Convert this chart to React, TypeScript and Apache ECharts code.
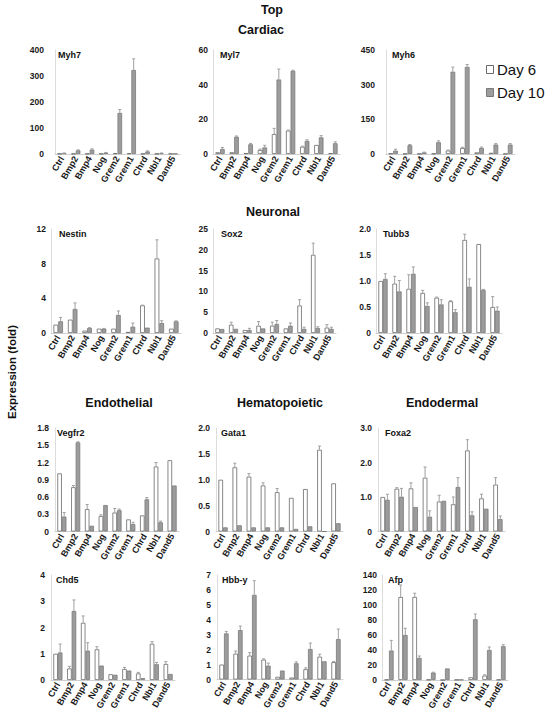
import React, { useEffect, useRef } from "react";
import * as echarts from "echarts";

const categories = ["Ctrl", "Bmp2", "Bmp4", "Nog", "Grem2", "Grem1", "Chrd", "Nbl1", "Dand5"];
const seriesNames = ["Day 6", "Day 10"];

// Cardiac
const myh7Day6 = [1, 1, 1, 1, 3, 3, 1, 1, 1];
const myh7Day6Err = [0, 0, 0, 0, 0, 0, 0, 0, 0];
const myh7Day10 = [3, 14, 17, 5, 158, 323, 10, 3, 1];
const myh7Day10Err = [1, 2, 3, 1, 13, 43, 2, 1, 0];

const myl7Day6 = [1, 1, 0.5, 2.3, 11.5, 13.5, 4.2, 5.2, 0.5];
const myl7Day6Err = [0, 0, 0, 0.5, 3.3, 0.3, 0.3, 0, 0];
const myl7Day10 = [2.9, 10, 5.6, 3.8, 43, 48, 7.6, 9.6, 6.2];
const myl7Day10Err = [0.9, 0.4, 0.5, 1.2, 6, 0.3, 0.6, 1.0, 0.8];

const myh6Day6 = [2, 1, 1, 2, 15, 26, 7, 5, 1];
const myh6Day6Err = [0, 0, 0, 0, 2, 3, 0, 0, 0];
const myh6Day10 = [14.5, 38, 7, 51, 356, 377, 26, 41, 41];
const myh6Day10Err = [6, 3, 1, 6, 20, 10, 4, 4, 4];

// Neuronal
const nestinDay6 = [0.96, 1.54, 0.27, 0.5, 0.5, 0.12, 3.19, 8.6, 0.5];
const nestinDay6Err = [0, 0, 0, 0, 0, 0, 0.02, 2.15, 0];
const nestinDay10 = [1.35, 2.77, 0.58, 0.5, 2.08, 0.73, 0.62, 1.15, 1.35];
const nestinDay10Err = [0.45, 0.7, 0.03, 0.03, 0.46, 0.42, 0, 0.27, 0.05];

const sox2Day6 = [1.1, 2.0, 0.72, 1.76, 1.76, 1.1, 6.6, 18.8, 1.3];
const sox2Day6Err = [0, 0.6, 0, 1.0, 0.85, 0, 1.4, 2.8, 0.7];
const sox2Day10 = [0.96, 1.0, 0.72, 1.1, 2.16, 1.76, 1.0, 1.2, 1.0];
const sox2Day10Err = [0, 0, 0.4, 0, 0.85, 0.65, 0.4, 0.3, 0.4];

const tubb3Day6 = [1.0, 0.95, 0.85, 0.77, 0.68, 0.61, 1.79, 1.71, 0.5];
const tubb3Day6Err = [0, 0.14, 0.27, 0.05, 0.01, 0.01, 0.11, 0, 0.2];
const tubb3Day10 = [1.04, 0.8, 1.14, 0.52, 0.55, 0.4, 0.89, 0.83, 0.43];
const tubb3Day10Err = [0.1, 0.21, 0.13, 0.06, 0.09, 0.05, 0.15, 0.01, 0.07];

// Endothelial / Hematopoietic / Endodermal
const vegfr2Day6 = [1.01, 0.77, 0.39, 0.27, 0.33, 0.21, 0.28, 1.13, 1.24];
const vegfr2Day6Err = [0, 0.03, 0.08, 0.02, 0.07, 0, 0, 0.07, 0];
const vegfr2Day10 = [0.26, 1.55, 0.1, 0.46, 0.37, 0.13, 0.56, 0.16, 0.8];
const vegfr2Day10Err = [0.07, 0.01, 0, 0, 0.02, 0.03, 0.03, 0.02, 0];

const gata1Day6 = [1.0, 1.24, 1.06, 0.89, 0.76, 0.65, 0.82, 1.58, 0.93];
const gata1Day6Err = [0, 0.08, 0.06, 0.05, 0.07, 0, 0, 0.07, 0];
const gata1Day10 = [0.08, 0.12, 0.08, 0.08, 0.08, 0.05, 0.1, 0, 0.16];
const gata1Day10Err = [0, 0, 0, 0, 0, 0, 0, 0, 0];

const foxa2Day6 = [1.0, 1.24, 1.25, 1.56, 0.87, 0.79, 2.35, 0.96, 1.36];
const foxa2Day6Err = [0, 0.03, 0.16, 0.31, 0.18, 0.21, 0.31, 0.12, 0.2];
const foxa2Day10 = [0.92, 1.01, 0.71, 0.43, 0.89, 1.29, 0.47, 0.66, 0.36];
const foxa2Day10Err = [0.16, 0.24, 0, 0.17, 0, 0.27, 0.1, 0, 0.09];

const chd5Day6 = [1.0, 0.44, 2.18, 1.17, 0.22, 0.42, 0.25, 1.38, 0.61];
const chd5Day6Err = [0, 0.08, 0.26, 0.1, 0, 0.06, 0.04, 0.08, 0.09];
const chd5Day10 = [1.05, 2.63, 1.12, 0.55, 0.2, 0.36, 0.07, 0.6, 0.23];
const chd5Day10Err = [0.32, 0.42, 0.3, 0, 0, 0, 0, 0.07, 0];

const hbbyDay6 = [1.0, 1.73, 1.6, 1.33, 0.18, 0.13, 0.69, 1.53, 1.16];
const hbbyDay6Err = [0, 0.18, 0.2, 0.05, 0, 0, 0.09, 0.16, 0.05];
const hbbyDay10 = [3.09, 3.31, 5.67, 0.93, 0.6, 1.09, 2.04, 1.22, 2.71];
const hbbyDay10Err = [0.13, 0.27, 0.95, 0.17, 0, 0.09, 0.4, 0, 0.67];

const afpDay6 = [0.5, 110.7, 110.7, 0.5, 0, 0.3, 3.6, 5.9, 0.5];
const afpDay6Err = [0, 16, 5, 0, 0, 0, 0, 1, 0];
const afpDay10 = [39.3, 60, 29.4, 9.9, 15.4, 0.5, 81, 40, 45];
const afpDay10Err = [13.5, 9, 2.6, 0.5, 0, 0, 7, 4, 2];

const geneNames = ["Myh7", "Myl7", "Myh6", "Nestin", "Sox2", "Tubb3", "Vegfr2", "Gata1", "Foxa2", "Chd5", "Hbb-y", "Afp"];
const axisMax = [400, 60, 450, 12, 25, 2.0, 1.8, 2.0, 3.0, 4, 7, 140];
const axisInterval = [100, 20, 150, 4, 5, 0.5, 0.3, 0.5, 1.0, 1, 1, 20];
const axisDecimals = [0, 0, 0, 0, 0, 1, 1, 1, 1, 0, 0, 0];

const day6Sets = [myh7Day6, myl7Day6, myh6Day6, nestinDay6, sox2Day6, tubb3Day6, vegfr2Day6, gata1Day6, foxa2Day6, chd5Day6, hbbyDay6, afpDay6];
const day6ErrSets = [myh7Day6Err, myl7Day6Err, myh6Day6Err, nestinDay6Err, sox2Day6Err, tubb3Day6Err, vegfr2Day6Err, gata1Day6Err, foxa2Day6Err, chd5Day6Err, hbbyDay6Err, afpDay6Err];
const day10Sets = [myh7Day10, myl7Day10, myh6Day10, nestinDay10, sox2Day10, tubb3Day10, vegfr2Day10, gata1Day10, foxa2Day10, chd5Day10, hbbyDay10, afpDay10];
const day10ErrSets = [myh7Day10Err, myl7Day10Err, myh6Day10Err, nestinDay10Err, sox2Day10Err, tubb3Day10Err, vegfr2Day10Err, gata1Day10Err, foxa2Day10Err, chd5Day10Err, hbbyDay10Err, afpDay10Err];

const sectionTitles = ["Top", "Cardiac", "Neuronal", "Endothelial", "Hematopoietic", "Endodermal"];

// layout (pixels): [left, top, width, zeroY, titleX, labelMargin]
const panelLayout = [
  [55, 50, 125, 154, 58, 11],
  [213, 50, 127, 154, 220, 5],
  [386, 50, 129, 154, 392, 11],
  [51, 229, 130, 333, 59, 5],
  [213, 229, 123, 333, 221, 5],
  [376, 229, 126, 333, 383, 5],
  [55, 428, 124, 531.5, 57, 6],
  [216, 428, 127, 531.5, 221, 6],
  [378, 428, 127, 531.5, 385, 6],
  [51, 575, 124, 680, 56, 6],
  [217, 575, 126, 679.5, 222, 6],
  [382, 575, 126, 680, 388, 5],
];
const sectionPos = [
  [272, 10],
  [261, 30],
  [273, 212],
  [119, 403],
  [280, 403],
  [442, 403],
];

const FONT = "'Liberation Sans', Arial, sans-serif";
const CAT_GAP = 0.34;
const WHITE_BORDER = "#6a6a6a";
const GREY_FILL = "#9c9c9c";
const GREY_BORDER = "#7a7a7a";
const ERR_COLOR = "#a0a0a0";

function buildOption() {
  const grid: any[] = [];
  const xAxis: any[] = [];
  const yAxis: any[] = [];
  const series: any[] = [];
  const graphic: any[] = [];

  geneNames.forEach((name, i) => {
    const [left, top, width, zeroY, titleX, margin] = panelLayout[i];
    grid.push({ left, top, width, height: zeroY - top, containLabel: false });
    xAxis.push({
      type: "category",
      gridIndex: i,
      data: categories,
      axisTick: { show: false },
      axisLine: { show: true, lineStyle: { color: "#cfcfcf", width: 1 } },
      axisLabel: {
        interval: 0,
        rotate: 60,
        margin: 3,
        fontSize: 9,
        fontWeight: "bold",
        fontFamily: FONT,
        color: "#1a1a1a",
      },
    });
    const dec = axisDecimals[i];
    yAxis.push({
      type: "value",
      gridIndex: i,
      min: 0,
      max: axisMax[i],
      interval: axisInterval[i],
      splitLine: { show: false },
      axisTick: { show: false },
      axisLine: { show: true, lineStyle: { color: "#dcdcdc", width: 1 } },
      axisLabel: {
        margin,
        fontSize: 8.5,
        fontWeight: "bold",
        fontFamily: FONT,
        color: "#1a1a1a",
        formatter: (v: number) => (v === 0 ? "0" : dec ? v.toFixed(1) : String(v)),
      },
    });
    series.push({
      type: "bar",
      name: seriesNames[0],
      xAxisIndex: i,
      yAxisIndex: i,
      data: day6Sets[i],
      barGap: "0%",
      barCategoryGap: CAT_GAP * 100 + "%",
      itemStyle: { color: "#ffffff", borderColor: WHITE_BORDER, borderWidth: 0.8 },
      silent: true,
    });
    series.push({
      type: "bar",
      name: seriesNames[1],
      xAxisIndex: i,
      yAxisIndex: i,
      data: day10Sets[i],
      barGap: "0%",
      barCategoryGap: CAT_GAP * 100 + "%",
      itemStyle: { color: GREY_FILL, borderColor: GREY_BORDER, borderWidth: 0.8 },
      silent: true,
    });
    const errData: any[] = [];
    categories.forEach((_, c) => {
      errData.push([c, day6Sets[i][c], day6ErrSets[i][c], 0]);
      errData.push([c, day10Sets[i][c], day10ErrSets[i][c], 1]);
    });
    series.push({
      type: "custom",
      xAxisIndex: i,
      yAxisIndex: i,
      data: errData,
      encode: { x: 0, y: 1 },
      silent: true,
      z: 5,
      renderItem: (params: any, api: any) => {
        const cat = api.value(0);
        const val = api.value(1);
        const err = api.value(2);
        const which = api.value(3);
        if (!err || err <= 0) return null;
        const band = api.size([1, 0])[0];
        const bw = (band * (1 - CAT_GAP)) / 2;
        const cx = api.coord([cat, 0])[0] + (which === 0 ? -bw / 2 : bw / 2);
        const yv = api.coord([cat, val])[1];
        const yt = api.coord([cat, val + err])[1];
        return {
          type: "group",
          children: [
            { type: "line", shape: { x1: cx, y1: yv, x2: cx, y2: yt }, style: { stroke: ERR_COLOR, lineWidth: 1 } },
            { type: "line", shape: { x1: cx - 1.5, y1: yt, x2: cx + 1.5, y2: yt }, style: { stroke: ERR_COLOR, lineWidth: 1 } },
          ],
        };
      },
    });
    graphic.push({
      type: "text",
      x: titleX,
      y: top + 5,
      style: {
        text: name,
        fontSize: 9,
        fontWeight: "bold",
        fontFamily: FONT,
        fill: "#111",
        textAlign: "left",
        textVerticalAlign: "middle",
        align: "left",
        verticalAlign: "middle",
      },
    });
  });

  sectionTitles.forEach((t, k) => {
    graphic.push({
      type: "text",
      x: sectionPos[k][0],
      y: sectionPos[k][1],
      style: {
        text: t,
        fontSize: 12.5,
        fontWeight: "bold",
        fontFamily: FONT,
        fill: "#111",
        textAlign: "center",
        textVerticalAlign: "middle",
        align: "center",
        verticalAlign: "middle",
      },
    });
  });

  graphic.push({
    type: "text",
    x: 12,
    y: 372,
    rotation: Math.PI / 2,
    style: {
      text: "Expression (fold)",
      fontSize: 11.5,
      fontWeight: "bold",
      fontFamily: FONT,
      fill: "#111",
      textAlign: "center",
      textVerticalAlign: "middle",
      align: "center",
      verticalAlign: "middle",
    },
  });

  // legend
  graphic.push({
    type: "rect",
    shape: { x: 486.5, y: 65.5, width: 7, height: 8 },
    style: { fill: "#fff", stroke: WHITE_BORDER, lineWidth: 1 },
  });
  graphic.push({
    type: "rect",
    shape: { x: 486.5, y: 88.5, width: 7, height: 8 },
    style: { fill: GREY_FILL, stroke: GREY_BORDER, lineWidth: 1 },
  });
  [seriesNames[0], seriesNames[1]].forEach((t, k) => {
    graphic.push({
      type: "text",
      x: 497,
      y: k === 0 ? 69.5 : 92.5,
      style: {
        text: t,
        fontSize: 15,
        fontFamily: FONT,
        fill: "#111",
        textAlign: "left",
        textVerticalAlign: "middle",
        align: "left",
        verticalAlign: "middle",
      },
    });
  });

  return {
    animation: false,
    backgroundColor: "#ffffff",
    textStyle: { fontFamily: FONT },
    grid,
    xAxis,
    yAxis,
    series,
    graphic,
  };
}

export default function App() {
  const ref = useRef<HTMLDivElement>(null);
  useEffect(() => {
    document.body.style.margin = "0";
    if (!ref.current) return;
    const chart = echarts.init(ref.current, undefined, { renderer: "svg" });
    chart.setOption(buildOption() as any);
    return () => {
      chart.dispose();
    };
  }, []);
  return <div ref={ref} style={{ width: 552, height: 714, background: "#fff" }} />;
}
